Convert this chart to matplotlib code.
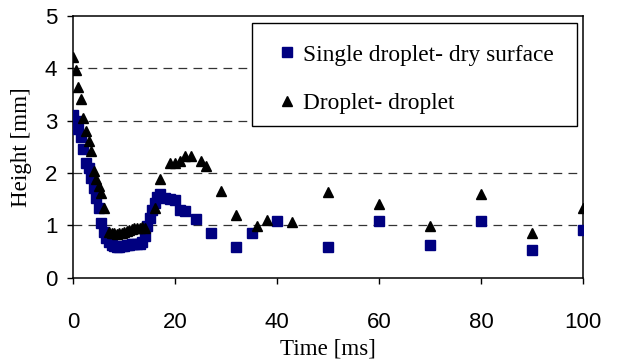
import matplotlib
matplotlib.use("Agg")
import matplotlib.pyplot as plt
from matplotlib.patches import Rectangle

# Single droplet - dry surface
t_single = [0, 0.5, 1, 1.5, 2, 2.5, 3, 3.5, 4, 4.5, 5, 5.5, 6, 6.5, 7, 7.5, 8, 8.5,
            9, 9.5, 10, 10.5, 11, 11.5, 12, 12.5, 13, 13.5, 14, 14.5, 15, 15.5, 16,
            16.5, 17, 18, 19, 20, 21, 22, 24, 27, 32, 35, 40, 50, 60, 70, 80, 90, 100]
h_single = [3.1, 3.0, 2.85, 2.68, 2.45, 2.2, 2.1, 1.9, 1.72, 1.53, 1.33, 1.05, 0.88,
            0.75, 0.68, 0.62, 0.6, 0.58, 0.58, 0.6, 0.6, 0.62, 0.63, 0.64, 0.65, 0.65,
            0.65, 0.68, 0.8, 0.98, 1.15, 1.3, 1.42, 1.55, 1.6, 1.53, 1.5, 1.48, 1.3,
            1.28, 1.13, 0.85, 0.58, 0.85, 1.08, 0.58, 1.08, 0.62, 1.08, 0.53, 0.92]

# Droplet - droplet
t_drop = [0, 0.5, 1, 1.5, 2, 2.5, 3, 3.5, 4, 4.5, 5, 5.5, 6, 7, 7.5, 8, 8.5, 9, 9.5,
          10, 10.5, 11, 11.5, 12, 12.5, 13, 13.5, 14, 16, 17, 19, 20, 21, 22, 23, 25,
          26, 29, 32, 36, 38, 43, 50, 60, 70, 80, 90, 100]
h_drop = [4.22, 3.96, 3.64, 3.42, 3.05, 2.81, 2.62, 2.42, 2.04, 1.88, 1.75, 1.62, 1.33,
          0.88, 0.85, 0.85, 0.83, 0.85, 0.85, 0.88, 0.9, 0.92, 0.93, 0.95, 0.95, 0.95,
          0.97, 0.95, 1.33, 1.88, 2.2, 2.2, 2.23, 2.33, 2.33, 2.23, 2.13, 1.65, 1.19,
          0.98, 1.11, 1.06, 1.64, 1.40, 0.99, 1.59, 0.85, 1.33]

x_ticks = [0, 20, 40, 60, 80, 100]
y_ticks = [0, 1, 2, 3, 4, 5]

W, H = 619, 360
fig = plt.figure(figsize=(W / 100, H / 100), dpi=100)
ax = fig.add_axes([73.3 / W, 1 - 277.7 / H, (583 - 73.3) / W, (277.7 - 16) / H])

ax.plot(t_single, h_single, linestyle="none", marker="s", markersize=7.5,
        color="#000080", markeredgecolor="#000080", label="Single droplet- dry surface", zorder=3)
ax.plot(t_drop, h_drop, linestyle="none", marker="^", markersize=7.5,
        color="black", markeredgecolor="black", label="Droplet- droplet", zorder=4)

ax.set_xlim(0, 100)
ax.set_ylim(0, 5)
ax.set_xticks(x_ticks)
ax.set_yticks(y_ticks)
for y in y_ticks[1:-1]:
    ax.axhline(y, color="#333333", linestyle=(0, (7, 5)), linewidth=0.9, zorder=1)

for s in ax.spines.values():
    s.set_linewidth(1.1)
    s.set_color("black")
ax.tick_params(direction="out", length=4.5, width=1, labelsize=16)
ax.tick_params(axis="y", pad=7)
ax.tick_params(axis="x", pad=20)
for lbl in ax.get_xticklabels() + ax.get_yticklabels():
    lbl.set_family("Liberation Sans")

ax.set_xlabel("Time [ms]", family="Liberation Serif", fontsize=16.6, labelpad=4)
ax.set_ylabel("Height [mm]", family="Liberation Serif", fontsize=16.6, labelpad=9)

fs = 16.8
fs_px = fs * 100 / 72
L = 0.8
leg = ax.legend(loc="center left",
                bbox_to_anchor=((286.7 - L * fs_px / 2) / W, 1 - 79 / H),
                bbox_transform=fig.transFigure, borderaxespad=0, borderpad=0,
                prop={"family": "Liberation Serif", "size": fs},
                frameon=False, handlelength=L, handletextpad=0.28, labelspacing=1.15,
                markerscale=1.0)
leg.set_zorder(7)

frame = Rectangle((252 / W, 1 - 126 / H), (577 - 252) / W, (126 - 23) / H,
                  transform=fig.transFigure, facecolor="white",
                  edgecolor="black", linewidth=1.0, zorder=6, clip_on=False)
ax.add_patch(frame)

fig.savefig("out.png", dpi=100)
